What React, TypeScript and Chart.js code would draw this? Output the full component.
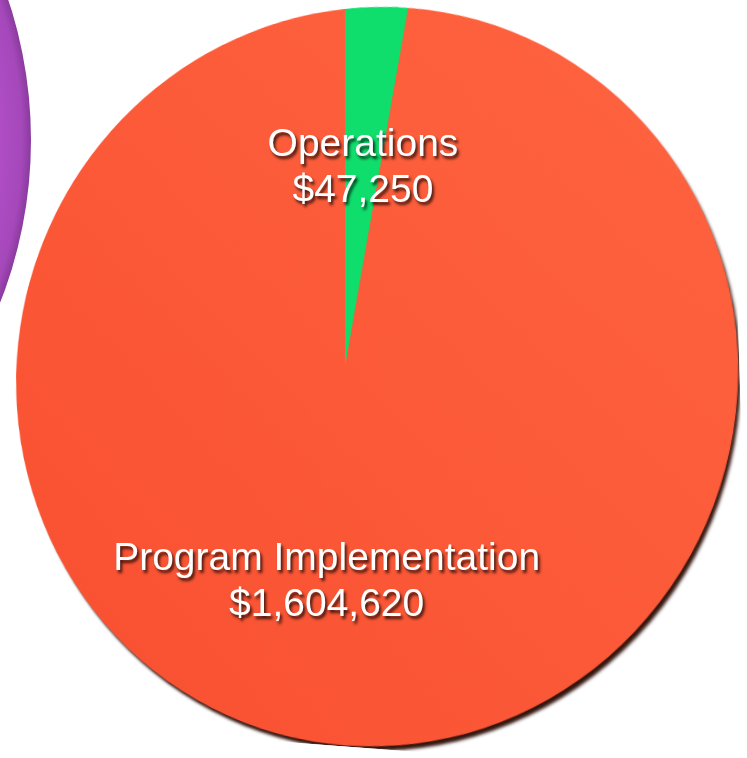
import React, { useEffect, useRef } from "react";
import { Chart, registerables } from "chart.js";

Chart.register(...registerables);

const categories = ["Operations", "Program Implementation"];
const values = [47250, 1604620];
const valueLabels = ["$47,250", "$1,604,620"];
const neighbourValues = [1];

const fmt = (v: number) => "$" + v.toLocaleString("en-US");

// view of the tilted disc (CSS transform applied to the pie canvas)
const PERSP = 1000;
const TILT_X = 4.3;
const TILT_Y = -14;
const MAIN_LEFT = -25;
const MAIN_TOP = -3;
const MAIN_SIZE = 740;

function project(px: number, py: number) {
  const ox = MAIN_SIZE / 2;
  const oy = MAIN_SIZE / 2;
  const x = px - ox;
  const y = py - oy;
  const b = (TILT_Y * Math.PI) / 180;
  const a = (TILT_X * Math.PI) / 180;
  const x1 = x * Math.cos(b);
  const y1 = y;
  const z1 = -x * Math.sin(b);
  const x2 = x1;
  const y2 = y1 * Math.cos(a) - z1 * Math.sin(a);
  const z2 = y1 * Math.sin(a) + z1 * Math.cos(a);
  const w = 1 - z2 / PERSP;
  return { x: MAIN_LEFT + ox + x2 / w, y: MAIN_TOP + oy + y2 / w };
}

const shadowPlugin = {
  id: "discShadow",
  beforeDatasetsDraw(chart: any) {
    const meta = chart.getDatasetMeta(0);
    const arc = meta.data[0];
    if (!arc) return;
    const { x, y, outerRadius } = arc.getProps(["x", "y", "outerRadius"], true);
    const ctx = chart.ctx;
    ctx.save();
    ctx.shadowColor = "rgba(40,8,0,0.95)";
    ctx.shadowBlur = 3;
    ctx.shadowOffsetX = 3;
    ctx.shadowOffsetY = 5;
    ctx.beginPath();
    ctx.arc(x, y, outerRadius - 1, 0, Math.PI * 2);
    ctx.fillStyle = "#fa5632";
    ctx.fill();
    ctx.restore();
  },
};

function makeLabelPlugin(getOverlay: () => HTMLCanvasElement | null) {
  return {
    id: "sliceLabels",
    afterDatasetsDraw(chart: any) {
      const overlay = getOverlay();
      if (!overlay) return;
      const ctx = overlay.getContext("2d")!;
      ctx.clearRect(0, 0, overlay.width, overlay.height);
      const meta = chart.getDatasetMeta(0);
      meta.data.forEach((arc: any, i: number) => {
        const { x, y, startAngle, endAngle, outerRadius } = arc.getProps(
          ["x", "y", "startAngle", "endAngle", "outerRadius"],
          true
        );
        const mid = (startAngle + endAngle) / 2;
        const r = outerRadius * 0.565;
        const p = project(x + Math.cos(mid) * r, y + Math.sin(mid) * r);
        ctx.save();
        ctx.font = '39px "Liberation Sans", Arial, Helvetica, sans-serif';
        ctx.textAlign = "center";
        ctx.textBaseline = "middle";
        ctx.shadowColor = "rgba(0,0,0,0.75)";
        ctx.shadowBlur = 3;
        ctx.shadowOffsetX = 2;
        ctx.shadowOffsetY = 3;
        ctx.fillStyle = "#ffffff";
        ctx.fillText(categories[i], p.x, p.y - 17);
        ctx.fillText(valueLabels[i] || fmt(values[i]), p.x, p.y + 29);
        ctx.restore();
      });
    },
  };
}

export default function App() {
  const mainRef = useRef<HTMLCanvasElement>(null);
  const sideRef = useRef<HTMLCanvasElement>(null);
  const overlayRef = useRef<HTMLCanvasElement>(null);

  useEffect(() => {
    const main = new Chart(mainRef.current!, {
      type: "pie",
      data: {
        labels: categories,
        datasets: [
          {
            data: values,
            borderWidth: 0,
            backgroundColor: (c: any) => {
              if (c.dataIndex === 0) return "#10de6c";
              const area = c.chart.chartArea;
              if (!area) return "#fc5935";
              const g = c.chart.ctx.createLinearGradient(area.left, area.bottom, area.right, area.top);
              g.addColorStop(0, "#f84f30");
              g.addColorStop(1, "#ff6440");
              return g;
            },
          },
        ],
      },
      options: {
        responsive: false,
        animation: false,
        layout: { padding: 1 },
        plugins: { legend: { display: false }, tooltip: { enabled: false } },
      },
      plugins: [shadowPlugin, makeLabelPlugin(() => overlayRef.current)],
    });

    const side = new Chart(sideRef.current!, {
      type: "pie",
      data: {
        labels: [""],
        datasets: [
          {
            data: neighbourValues,
            borderWidth: 0,
            backgroundColor: (c: any) => {
              const area = c.chart.chartArea;
              if (!area) return "#b34fca";
              const cx = (area.left + area.right) / 2;
              const cy = (area.top + area.bottom) / 2;
              const r = (area.right - area.left) / 2;
              const g = c.chart.ctx.createRadialGradient(cx, cy, r * 0.9, cx, cy, r);
              g.addColorStop(0, "#b550cc");
              g.addColorStop(0.8, "#a548ba");
              g.addColorStop(1, "#8a3a9e");
              return g;
            },
          },
        ],
      },
      options: {
        responsive: false,
        animation: false,
        layout: { padding: 0 },
        plugins: { legend: { display: false }, tooltip: { enabled: false } },
      },
    });

    return () => {
      main.destroy();
      side.destroy();
    };
  }, []);

  return (
    <div
      style={{
        position: "fixed",
        left: 0,
        top: 0,
        width: 747,
        height: 758,
        overflow: "hidden",
        background: "#ffffff",
      }}
    >
      <canvas
        ref={sideRef}
        width={888}
        height={888}
        style={{ position: "absolute", left: -857, top: -304, width: 888, height: 888 }}
      />
      <canvas
        ref={mainRef}
        width={MAIN_SIZE}
        height={MAIN_SIZE}
        style={{
          position: "absolute",
          left: MAIN_LEFT,
          top: MAIN_TOP,
          width: MAIN_SIZE,
          height: MAIN_SIZE,
          transform: `perspective(${PERSP}px) rotateX(${TILT_X}deg) rotateY(${TILT_Y}deg)`,
        }}
      />
      <canvas
        ref={overlayRef}
        width={747}
        height={758}
        style={{ position: "absolute", left: 0, top: 0, width: 747, height: 758, pointerEvents: "none" }}
      />
    </div>
  );
}
